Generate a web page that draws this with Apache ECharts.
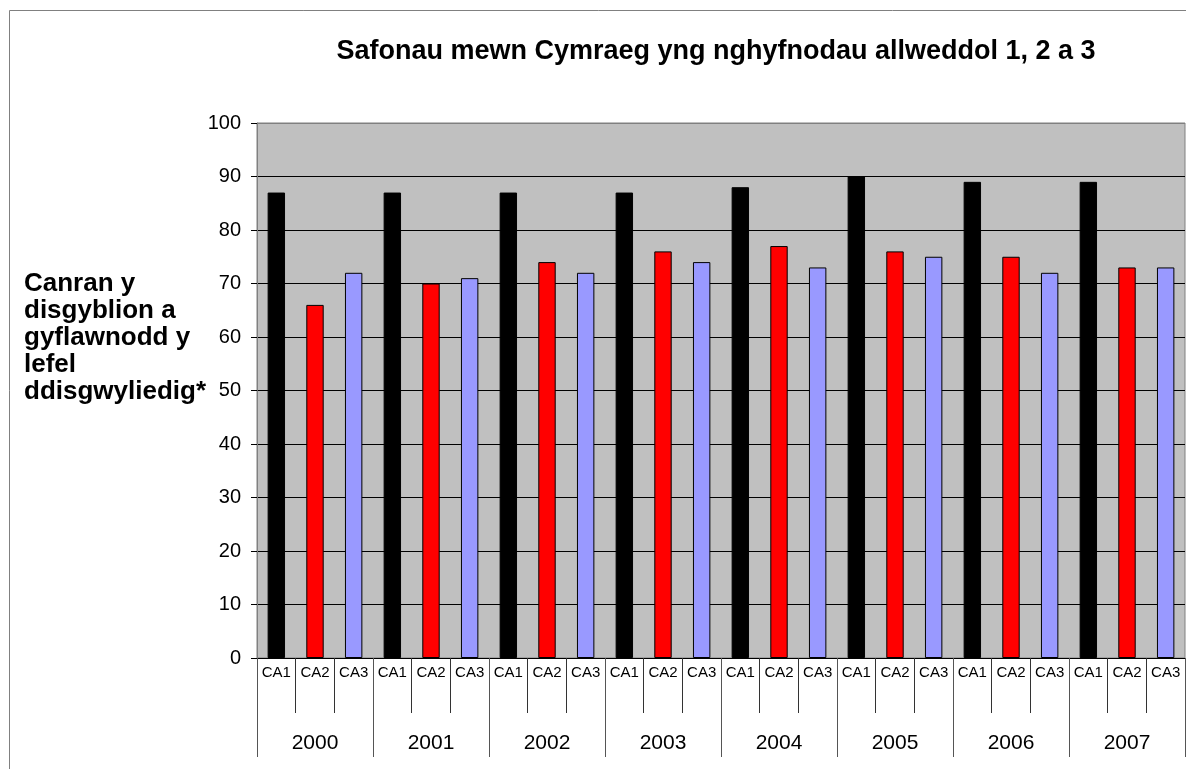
<!DOCTYPE html>
<html>
<head>
<meta charset="utf-8">
<script src="https://cdn.jsdelivr.net/npm/echarts@6/dist/echarts.min.js"></script>
<style>
html,body{margin:0;padding:0;background:#fff;}
#chart{width:1186px;height:769px;}
</style>
</head>
<body>
<div id="chart"></div>
<script>
var titleText = 'Safonau mewn Cymraeg yng nghyfnodau allweddol 1, 2 a 3';
var yAxisTitle = 'Canran y\ndisgyblion a\ngyflawnodd y\nlefel\nddisgwyliedig*';
var years = ['2000', '2001', '2002', '2003', '2004', '2005', '2006', '2007'];
var stages = ['CA1', 'CA2', 'CA3'];
var ca1Values = [87, 87, 87, 87, 88, 90, 89, 89];
var ca2Values = [66, 70, 74, 76, 77, 76, 75, 73];
var ca3Values = [72, 71, 72, 74, 73, 75, 72, 73];
var stageColors = ['#000000', '#FF0000', '#9999FF'];
var yTicks = [0, 10, 20, 30, 40, 50, 60, 70, 80, 90, 100];

var stageSeries = [ca1Values, ca2Values, ca3Values];
var catLabels = [];
var barData = [];
years.forEach(function (y, yi) {
  stages.forEach(function (s, si) {
    catLabels.push(s);
    barData.push({
      value: stageSeries[si][yi],
      itemStyle: { color: stageColors[si] }
    });
  });
});

var splitColors = yTicks.map(function (t, i) { return i === yTicks.length - 1 ? '#808080' : '#000000'; });

var chart = echarts.init(document.getElementById('chart'), null, { renderer: 'canvas' });
chart.setOption({
  animation: false,
  backgroundColor: '#ffffff',
  textStyle: { fontFamily: 'Liberation Sans, Arial, sans-serif' },
  title: {
    text: titleText,
    left: 711,
    textAlign: 'center',
    top: 33,
    textStyle: { fontSize: 27, fontWeight: 'bold', color: '#000', fontFamily: 'Liberation Sans, Arial, sans-serif' }
  },
  graphic: [
    {
      type: 'rect',
      shape: { x: 9.5, y: 10.5, width: 1200, height: 800 },
      style: { fill: 'none', stroke: '#808080', lineWidth: 1 },
      silent: true,
      z: -10
    },
    {
      type: 'text',
      x: 24,
      y: 270,
      style: {
        text: yAxisTitle,
        font: 'bold 26px "Liberation Sans", Arial, sans-serif',
        lineHeight: 27,
        fill: '#000',
        textVerticalAlign: 'top',
        textAlign: 'left'
      }
    }
  ],
  grid: {
    left: 257,
    right: 1,
    top: 123,
    bottom: 111,
    show: true,
    backgroundColor: '#C0C0C0',
    borderColor: '#808080',
    borderWidth: 1
  },
  xAxis: [
    {
      type: 'category',
      data: catLabels,
      position: 'bottom',
      boundaryGap: true,
      axisLine: { show: true, onZero: false, lineStyle: { color: '#000', width: 1 } },
      axisTick: { show: true, interval: 0, length: 55, lineStyle: { color: '#333', width: 1 } },
      axisLabel: { interval: 0, fontSize: 15, color: '#000', margin: 7 },
      splitLine: { show: false }
    },
    {
      type: 'category',
      data: years,
      position: 'bottom',
      boundaryGap: true,
      axisLine: { show: false, onZero: false },
      axisTick: { show: true, interval: 0, length: 99, lineStyle: { color: '#555', width: 1 } },
      axisLabel: { interval: 0, fontSize: 21, color: '#000', margin: 75 },
      splitLine: { show: false }
    }
  ],
  yAxis: {
    type: 'value',
    min: 0,
    max: 100,
    interval: 10,
    axisLine: { show: true, lineStyle: { color: '#808080', width: 1 } },
    axisTick: { show: true, length: 6, lineStyle: { color: '#000' } },
    axisLabel: { fontSize: 20, color: '#000', margin: 16 },
    splitLine: { show: true, lineStyle: { color: splitColors, width: 1 } }
  },
  series: [
    {
      type: 'bar',
      xAxisIndex: 0,
      data: barData,
      barWidth: '45%',
      itemStyle: { borderColor: '#000', borderWidth: 1 }
    }
  ]
});
</script>
</body>
</html>
